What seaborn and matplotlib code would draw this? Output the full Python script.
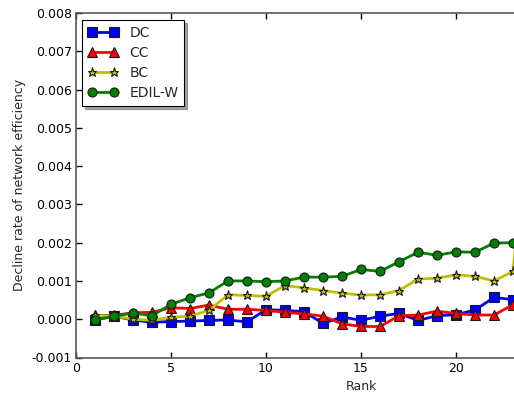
import matplotlib
matplotlib.use("Agg")
import matplotlib.pyplot as plt
import seaborn as sns
from matplotlib.ticker import FormatStrFormatter

rank = list(range(1, 25))

dc = [-0.00002, 0.00008, -0.00002, -0.00008, -0.00006, -0.00005, -0.00003, -0.00002,
      -0.00007, 0.00025, 0.00023, 0.00020, -0.00011, 0.00006, -0.00003, 0.00008,
      0.00015, -0.00003, 0.00009, 0.00012, 0.00024, 0.00057, 0.00051, 0.00050]
cc = [0.00010, 0.00010, 0.00017, 0.00018, 0.00030, 0.00028, 0.00037, 0.00026,
      0.00026, 0.00023, 0.00018, 0.00014, 0.00008, -0.00012, -0.00019, -0.00019,
      0.00009, 0.00011, 0.00021, 0.00015, 0.00011, 0.00011, 0.00038, 0.00040]
bc = [0.00010, 0.00008, 0.00000, -0.00003, 0.00005, 0.00008, 0.00023, 0.00064,
      0.00062, 0.00060, 0.00088, 0.00082, 0.00075, 0.00068, 0.00063, 0.00064,
      0.00075, 0.00105, 0.00107, 0.00116, 0.00112, 0.00100, 0.00125, 0.00650]
edil = [-0.00002, 0.00008, 0.00016, 0.00009, 0.00039, 0.00056, 0.00069, 0.00100,
        0.00100, 0.00098, 0.00100, 0.00110, 0.00110, 0.00112, 0.00130, 0.00125,
        0.00150, 0.00175, 0.00167, 0.00176, 0.00175, 0.00199, 0.00200, 0.00200]

series = [
    ("DC", dc, "#0000ff", "s", 6.5),
    ("CC", cc, "#ff0000", "^", 6.5),
    ("BC", bc, "#bfbf00", "*", 6.5),
    ("EDIL-W", edil, "#008000", "o", 6.5),
]

sns.set_theme(style="ticks")
plt.rcParams["font.family"] = ["DejaVu Sans"]

fig = plt.figure(figsize=(5.14, 3.94), dpi=100)
# axes run past the right edge of the canvas
ax = fig.add_axes([76 / 514, 1 - 357.5 / 394, 570 / 514, (357.5 - 13) / 394])

for name, vals, col, mk, ms in series:
    sns.lineplot(x=rank, y=vals, ax=ax, color=col, marker=mk, markersize=ms,
                 markeredgecolor="k", markeredgewidth=0.8, linewidth=2,
                 label=name)

ax.set_xlim(0, 30)
ax.set_ylim(-0.001, 0.008)
ax.set_xticks([0, 5, 10, 15, 20])
ax.set_yticks([-0.001, 0, 0.001, 0.002, 0.003, 0.004, 0.005, 0.006, 0.007, 0.008])
ax.yaxis.set_major_formatter(FormatStrFormatter("%.3f"))
ax.tick_params(direction="in", top=True, right=True, length=4, width=1,
               labelsize=9, colors="black", pad=3)
for s in ax.spines.values():
    s.set_color("0.35")
    s.set_linewidth(1.2)

ax.set_xlabel("Rank", fontsize=9)
ax.set_ylabel("Decline rate of network efficiency", fontsize=9)

leg = ax.legend(loc="upper left", bbox_to_anchor=(6 / 570, 1 - 7 / 344.5),
                fontsize=10, numpoints=2, shadow=True, fancybox=False,
                frameon=True, borderaxespad=0, handlelength=2.2,
                labelspacing=0.45, borderpad=0.4)
leg.get_frame().set_edgecolor("black")
leg.get_frame().set_linewidth(0.8)

fig.savefig("out.png", dpi=100)
